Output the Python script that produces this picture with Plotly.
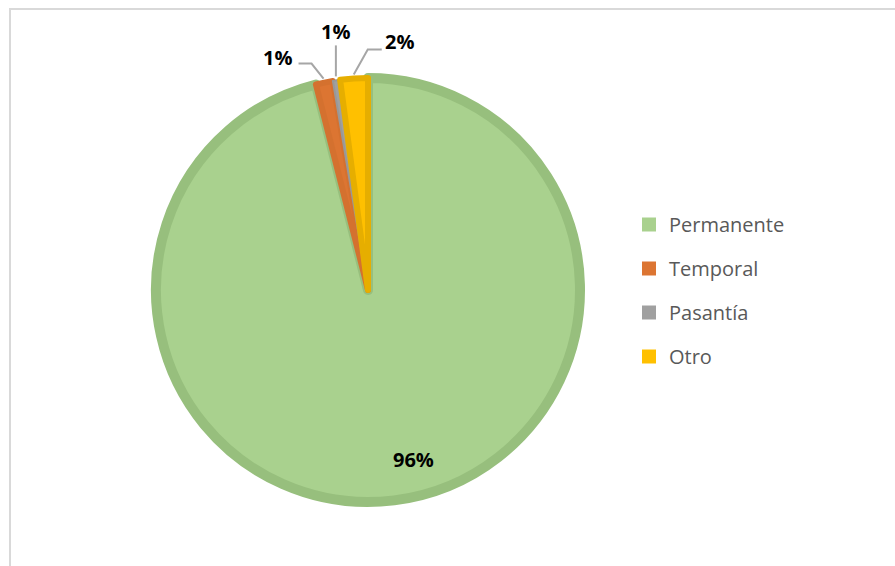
import math
import plotly.graph_objects as go

# data
labels = ['Permanente', 'Temporal', 'Pasantía', 'Otro']
values = [96.05, 1.3, 0.55, 2.1]
fill_colors = ['#A9D18E', '#DC7532', '#A0A0A0', '#FFC000']
line_colors = ['#97BF7D', '#D4712F', '#989898', '#E6AE00']
line_widths = [10, 6, 2, 6]

W, H = 895, 566
CX, CY, R = 368, 290, 212   # pie center / radius in pixels
LABEL_FONT = dict(size=20, color='#000000', family='Open Sans, Arial')

fig = go.Figure()

fig.add_trace(go.Pie(
    labels=labels,
    values=values,
    sort=False,
    direction='clockwise',
    rotation=0,
    marker=dict(colors=fill_colors, line=dict(color=line_colors, width=line_widths)),
    textinfo='none',
    showlegend=False,
    domain=dict(x=[(CX - R) / W, (CX + R) / W], y=[(H - CY - R) / H, (H - CY + R) / H]),
    hoverinfo='label+percent',
))

# legend entries (separate groups so the spacing can follow the reference)
for i, name in enumerate(labels):
    fig.add_trace(go.Scatter(
        x=[None], y=[None], mode='markers', name=name, legendgroup=name,
        marker=dict(symbol='square', size=14, color=fill_colors[i]),
    ))


def px_to_paper(px, py):
    return px / W, 1 - py / H


# percentage labels, placed from the slice angles
total = sum(values)
pct = [v / total for v in values]
# label offsets (pixels) relative to the slice edge point: elbow, line end, text
offsets = {
    'Temporal': ((-12, -15), (-25, -15), (-46, -21)),
    'Pasantía': ((0, -15), (0, -31), (0, -45)),
    'Otro': ((14, -25), (28, -25), (46, -33)),
}

annotations = []
shapes = []
start = 0.0
for name, p in zip(labels, pct):
    mid = (start + p / 2) * 2 * math.pi
    start += p
    txt = f'{round(p * 100):.0f}%'
    if name == 'Permanente':
        ang = mid - math.radians(8)
        tx = CX + 0.82 * R * math.sin(ang)
        ty = CY - 0.82 * R * math.cos(ang)
        x, y = px_to_paper(tx, ty + 2)
        annotations.append(dict(x=x, y=y, xref='paper', yref='paper', text=f'<b>{txt}</b>',
                                xanchor='center', yanchor='middle',
                                showarrow=False, font=LABEL_FONT))
        continue
    ex = CX + (R + 4) * math.sin(mid)
    ey = CY - (R + 4) * math.cos(mid)
    (elx, ely), (lx, ly), (tdx, tdy) = offsets[name]
    pts = [(ex, ey), (ex + elx, ey + ely), (ex + lx, ey + ly)]
    path = 'M ' + ' L '.join(f'{a / W:.5f},{1 - b / H:.5f}' for a, b in pts)
    shapes.append(dict(type='path', path=path, xref='paper', yref='paper',
                       line=dict(color='#A6A6A6', width=2)))
    x, y = px_to_paper(ex + tdx, ey + tdy)
    annotations.append(dict(x=x, y=y, xref='paper', yref='paper', text=f'<b>{txt}</b>',
                            xanchor='center', yanchor='middle',
                            showarrow=False, font=LABEL_FONT))

# chart area frame
shapes.append(dict(type='rect', xref='paper', yref='paper',
                   x0=10 / W, x1=1.05, y0=-0.05, y1=1 - 9 / H,
                   line=dict(color='#D9D9D9', width=2), fillcolor='rgba(0,0,0,0)', layer='below'))

fig.update_layout(
    width=W, height=H,
    margin=dict(l=0, r=0, t=0, b=0),
    paper_bgcolor='white',
    plot_bgcolor='white',
    xaxis=dict(visible=False),
    yaxis=dict(visible=False),
    showlegend=True,
    legend=dict(
        x=629 / W, xanchor='left', y=1 - 205 / H, yanchor='top',
        font=dict(size=20, color='#595959', family='Open Sans, Arial'),
        tracegroupgap=15, bgcolor='rgba(0,0,0,0)',
    ),
    annotations=annotations,
    shapes=shapes,
)

fig.write_html('out.html', config={'displayModeBar': False},
               post_script="document.body.style.margin='0';")
